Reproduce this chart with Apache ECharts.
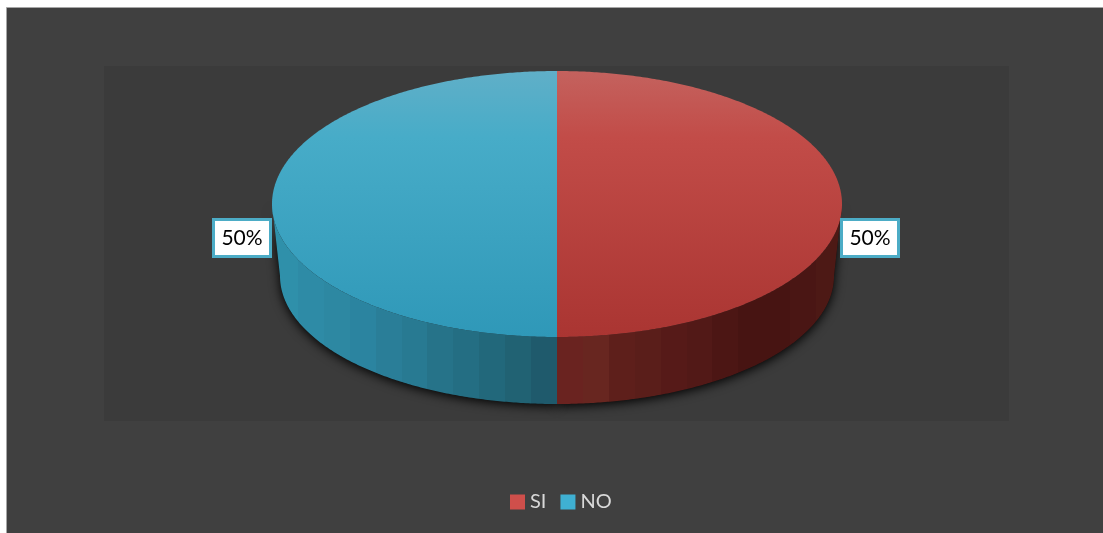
<!DOCTYPE html>
<html><head><meta charset="utf-8">
<style>html,body{margin:0;padding:0;background:#fff}#c{width:1103px;height:533px}</style>
<script src="https://cdn.jsdelivr.net/npm/echarts@6/dist/echarts.min.js"></script>
</head><body><div id="c"></div>
<script>
const categories = ['SI', 'NO'];
const values = [50, 50];
const labels = ['50%', '50%'];

const FONT = 'Lato, "Open Sans", sans-serif';
const top3d = {cx: 557, cy: 204, rx: 285, ry: 133};
const bot3d = {cx: 557, cy: 276, rx: 277, ry: 128};
const topFill = [
  [[0, '#c4625e'], [0.25, '#c24c48'], [1, '#aa3532']],
  [[0, '#60afc8'], [0.25, '#47acc8'], [1, '#2f98b8']]
];
const sideStripes = [
  ['#6a2320','#682620','#5e1f1b','#5a1e1a','#561a18','#521917','#4c1614','#471412','#471412','#4a1614','#4d1915'],
  ['#2f90aa','#2e8ba6','#2d88a2','#2b84a0','#2a7e98','#287a92','#267389','#246e83','#22687b','#216273','#1f5a6c']
];
const sum = values.reduce((a, b) => a + b, 0);

function pt(e, deg) {
  const r = deg * Math.PI / 180;
  return [e.cx + e.rx * Math.sin(r), e.cy - e.ry * Math.cos(r)];
}
function arc(e, a, b) {
  const out = [];
  const n = Math.max(2, Math.ceil(Math.abs(b - a) * 2));
  for (let i = 0; i <= n; i++) out.push(pt(e, a + (b - a) * i / n));
  return out;
}
function stripes(list) {
  const stops = [];
  list.forEach((c, i) => {
    stops.push({offset: i / list.length, color: c});
    stops.push({offset: (i + 1) / list.length, color: c});
  });
  return {type: 'linear', x: 0, y: 0, x2: 1, y2: 0, colorStops: stops};
}
function makeRender(idx) {
  return function (params, api) {
    const before = values.slice(0, idx).reduce((a, b) => a + b, 0);
    const a0 = before / sum * 360;
    const a1 = a0 + api.value(0) / sum * 360;
    const mid = (a0 + a1) / 2;
    const frontA = Math.max(a0, 90), frontB = Math.min(a1, 270);
    const children = [];
    if (frontB > frontA) {
      const lower = arc(bot3d, frontA, frontB);
      const upper = arc(top3d, frontA, frontB).reverse();
      children.push({type: 'polygon', z2: 0, shape: {points: lower.concat(upper)},
        style: {fill: '#111', shadowColor: 'rgba(0,0,0,1)', shadowBlur: 11, shadowOffsetY: 2}});
      children.push({type: 'polygon', z2: 1, shape: {points: lower.concat(upper)},
        style: {fill: stripes(sideStripes[idx])}});
    }
    children.push({type: 'polygon', z2: 2,
      shape: {points: [[top3d.cx, top3d.cy]].concat(arc(top3d, a0, a1))},
      style: {fill: {type: 'linear', x: 0, y: 0, x2: 0, y2: 1,
        colorStops: topFill[idx].map(s => ({offset: s[0], color: s[1]}))}}});
    const anchor = pt(top3d, mid);
    const w = 60, h = 40;
    const left = Math.sin(mid * Math.PI / 180) > 0 ? anchor[0] - 2 : anchor[0] - w;
    const y = anchor[1] + 14;
    children.push({type: 'rect', z2: 3, shape: {x: left + 1.5, y: y + 1.5, width: w - 3, height: h - 3},
      style: {fill: '#fff', stroke: '#4cacc6', lineWidth: 3}});
    children.push({type: 'text', z2: 4, x: left + w / 2, y: y + h / 2,
      style: {text: labels[idx], fill: '#000', font: '21px ' + FONT, align: 'center', verticalAlign: 'middle'}});
    return {type: 'group', children};
  };
}

const chart = echarts.init(document.getElementById('c'), null, {renderer: 'canvas'});
chart.setOption({
  animation: false,
  backgroundColor: '#fff',
  graphic: {elements: [
    {type: 'rect', z: -10, shape: {x: 6.5, y: 7.5, width: 1100, height: 530},
      style: {fill: '#404040', stroke: '#a6a6a6', lineWidth: 1}},
    {type: 'rect', z: -9, shape: {x: 104, y: 66, width: 905, height: 355},
      style: {fill: '#3b3b3b'}}
  ]},
  legend: {
    data: categories, left: 505, top: 487, itemWidth: 15, itemHeight: 15, itemGap: 14,
    icon: 'rect',
    textStyle: {color: '#d9d9d9', fontSize: 20, fontFamily: FONT}
  },
  series: categories.map((name, i) => ({
    type: 'custom', name,
    coordinateSystem: 'none',
    silent: true,
    itemStyle: {color: ['#cf4f4b', '#3fb0d2'][i]},
    renderItem: makeRender(i),
    data: [[values[i]]]
  }))
});
</script></body></html>
